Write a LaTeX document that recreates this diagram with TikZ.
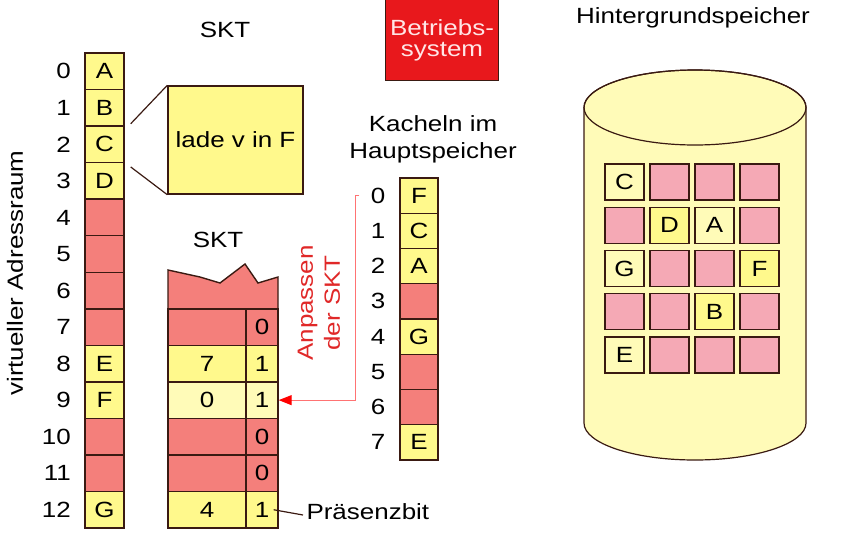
\documentclass[tikz,border=0pt]{standalone}
\usepackage{fontspec}
\setmainfont{Liberation Sans}[FakeStretch=1.18]
\usetikzlibrary{arrows.meta}

\definecolor{rd}{HTML}{F47F7B}
\definecolor{yel}{HTML}{FFF98C}
\definecolor{pal}{HTML}{FFFBB8}
\definecolor{pnk}{HTML}{F5A9B5}
\definecolor{edge}{HTML}{3A1A12}
\definecolor{osred}{HTML}{E8181C}
\definecolor{ostext}{HTML}{FFE6E6}
\definecolor{txtred}{HTML}{E02828}

\begin{document}
\begin{tikzpicture}[x=1pt, y=-1pt, font=\fontsize{22}{27}\selectfont,
    cell/.style={draw=edge, line width=1.4pt, inner sep=0pt, minimum width=39pt, minimum height=36.5pt},
    num/.style={inner sep=0pt},
    lbl/.style={align=center}]
    \useasboundingbox (0,0) rectangle (857,542);

    % virtueller Adressraum
    \node[rotate=90] (va) at (15,273) {virtueller Adressraum};
    \node (skt) at (225,30) {SKT};
    \foreach \i/\t/\f in {0/A/yel,1/B/yel,2/C/yel,3/D/yel,4/{}/rd,5/{}/rd,6/{}/rd,
        7/{}/rd,8/E/yel,9/F/yel,10/{}/rd,11/{}/rd,12/G/yel} {
        \node[cell, fill=\f] (v\i) at (104.5, 71.27+36.54*\i) {\t};
        \node[num, anchor=east] (vn\i) at (71, 71.27+36.54*\i) {\i};
    }

    % Seitenfehler
    \node[draw=edge, line width=1.4pt, fill=yel, minimum width=135pt, minimum height=108pt] (load) at (235.5,140) {lade v in F};
    \draw[edge, line width=1.2pt] ([xshift=6pt, yshift=3pt]v1.south east) -- (load.north west);
    \draw[edge, line width=1.2pt] ([xshift=6pt, yshift=-5pt]v3.north east) -- (load.south west);

    % SKT mit Praesenzbit
    \node (skt2) at (218,240) {SKT};
    \fill[rd] (168,308.8) -- (168,270) -- (200,277) -- (220,283) -- (245,264) -- (258,283) -- (278,277) -- (278,308.8) -- cycle;
    \draw[edge, line width=1.4pt] (168,308.8) -- (168,270) -- (200,277) -- (220,283) -- (245,264) -- (258,283) -- (278,277) -- (278,308.8);
    \foreach \i/\a/\b/\f in {7/{}/0/rd, 8/7/1/yel, 9/0/1/pal, 10/{}/0/rd, 11/{}/0/rd, 12/4/1/yel} {
        \node[cell, fill=\f, minimum width=78pt] (sa\i) at (207, 71.27+36.54*\i) {\a};
        \node[cell, fill=\f, minimum width=32pt] (sb\i) at (262, 71.27+36.54*\i) {\b};
    }
    \node[anchor=west] (pb) at (303,512) {Präsenzbit};
    \draw[edge, line width=1.2pt] ([xshift=-5pt]sb12.east) -- ([yshift=-3pt]pb.west);

    % Betriebssystem
    \node[fill=osred, text=ostext, align=center, minimum width=112pt, minimum height=80pt,
        font=\fontsize{22}{21}\selectfont] (os) at (442,40) {Betriebs-\\system};
    \draw[edge, line width=1.2pt] (os.north west) |- (os.south east) -- (os.north east);

    % Kacheln im Hauptspeicher
    \node[lbl] (kh) at (433,139) {Kacheln im\\Hauptspeicher};
    \foreach \i/\t/\f in {0/F/yel,1/C/yel,2/A/yel,3/{}/rd,4/G/yel,5/{}/rd,6/{}/rd,7/E/yel} {
        \node[cell, fill=\f, minimum width=38pt, minimum height=35.25pt] (k\i) at (419, 195.6+35.25*\i) {\t};
        \node[num] (kn\i) at (378, 195.6+35.25*\i) {\i};
    }

    % Anpassen der SKT
    \coordinate (brk) at ([xshift=-44pt]k0.west);
    \draw[red!55, line width=1pt, -{Triangle[length=13pt, width=10pt, color=red]}]
        ([xshift=4pt]brk) -- (brk) |- (sb9.east);
    \node[lbl, text=txtred, rotate=90] (adj) at (319,303) {Anpassen\\der SKT};

    % Hintergrundspeicher
    \node (hs) at (693,18) {Hintergrundspeicher};
    \filldraw[fill=pal, draw=edge, line width=1.2pt] (584,107.5) -- (584,423)
        arc[start angle=180, end angle=0, x radius=111, y radius=37] -- (806,107.5)
        arc[start angle=0, end angle=-180, x radius=111, y radius=37.5] -- cycle;
    \draw[edge, line width=1.2pt] (695,107.5) ellipse [x radius=111, y radius=37.5];
    \foreach \r/\row in {0/{C/pal,/pnk,/pnk,/pnk}, 1/{/pnk,D/yel,A/pal,/pnk}, 2/{G/pal,/pnk,/pnk,F/yel},
        3/{/pnk,/pnk,B/yel,/pnk}, 4/{E/pal,/pnk,/pnk,/pnk}}
        \foreach \t/\f [count=\c from 0] in \row
            \node[cell, fill=\f, minimum height=36pt] (h\r\c) at (624.5+45*\c, 182+43.25*\r) {\t};
\end{tikzpicture}
\end{document}
